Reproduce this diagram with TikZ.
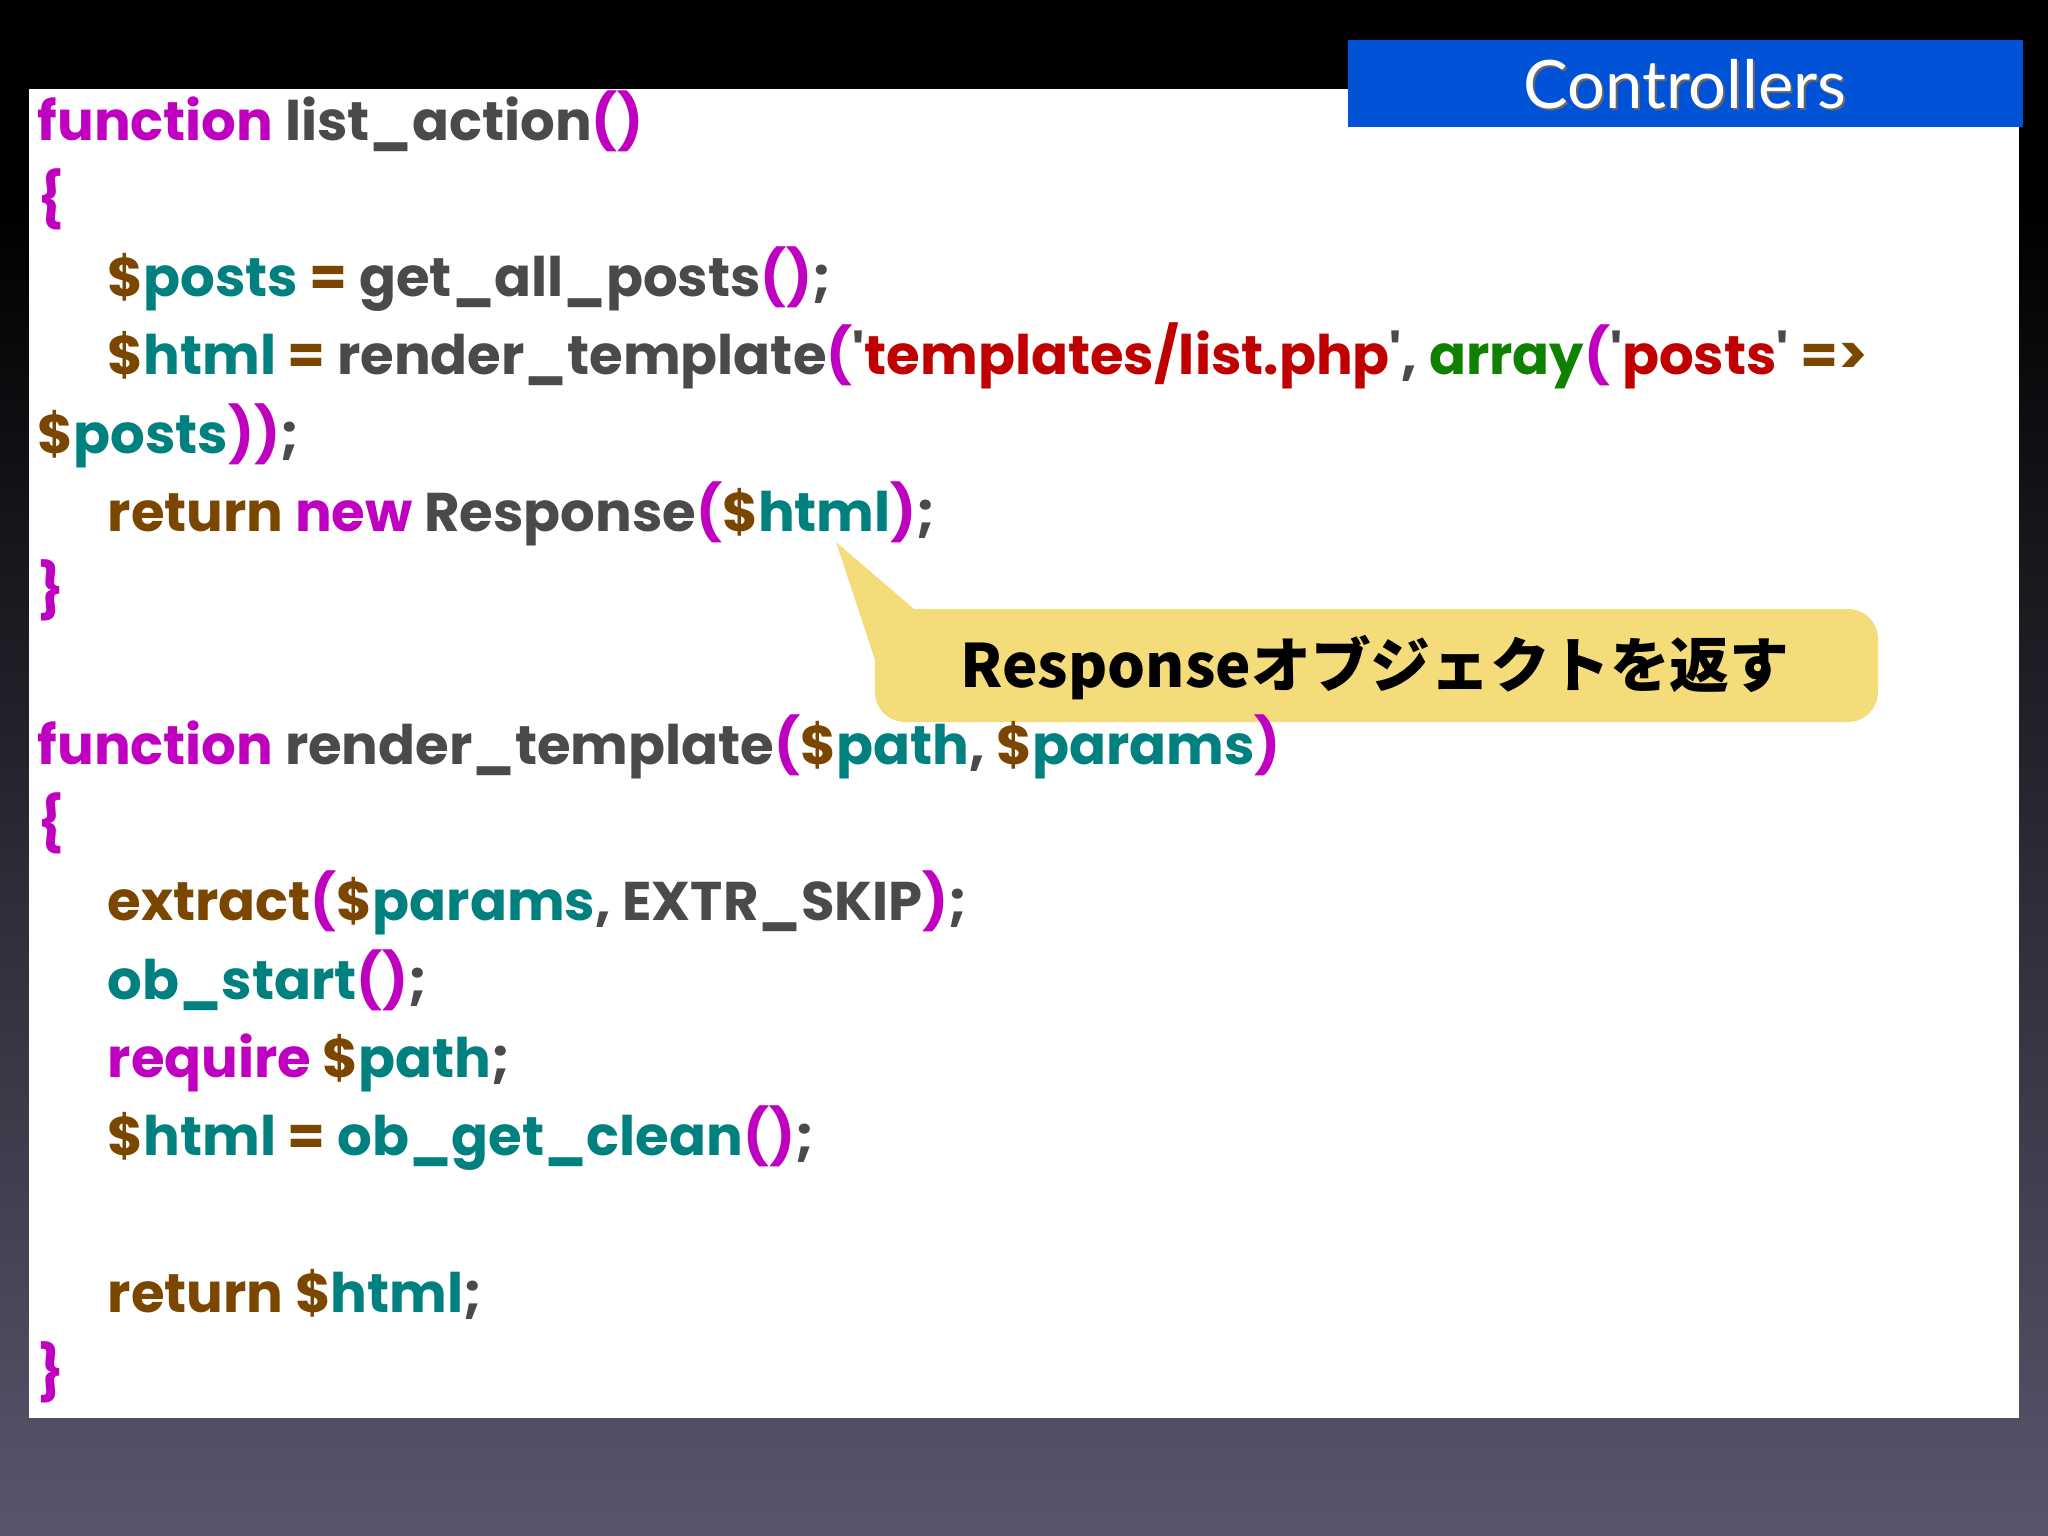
\documentclass[tikz,border=0pt]{standalone}
\usepackage{fontspec}
\setmainfont{Poppins}[Ligatures=TeXOff]
\newfontfamily\ctrlfont{Lato}
\newfontfamily\jpfont{Noto Sans CJK JP}
\definecolor{kwm}{HTML}{C000C0}
\definecolor{brn}{HTML}{7A4600}
\definecolor{tea}{HTML}{00807F}
\definecolor{gry}{HTML}{4A4A4A}
\definecolor{rdd}{HTML}{C00000}
\definecolor{grn}{HTML}{108000}
\definecolor{ctrlblue}{HTML}{0052D6}
\definecolor{callout}{HTML}{F5DC7A}
\newcommand{\Km}[1]{\textcolor{kwm}{#1}}
\newcommand{\Kb}[1]{\textcolor{brn}{#1}}
\newcommand{\Kt}[1]{\textcolor{tea}{#1}}
\newcommand{\Kg}[1]{\textcolor{gry}{#1}}
\newcommand{\Kr}[1]{\textcolor{rdd}{#1}}
\newcommand{\Kn}[1]{\textcolor{grn}{#1}}
\newcommand{\V}[1]{\Kb{\$}\Kt{#1}}
\begin{document}
\begin{tikzpicture}[x=0.01cm,y=-0.01cm,
  code/.style={anchor=base west,inner sep=0pt,font=\fontsize{15.5}{18}\selectfont\bfseries,text=gry}]
\useasboundingbox (0,0) rectangle (2048,1536);
\fill[black] (0,0) rectangle (2048,200);
\shade[top color=black,bottom color={rgb,255:red,88;green,86;blue,108}] (0,200) rectangle (2048,1536);
\fill[white] (29,89) rectangle (2019,1418);
\fill[ctrlblue] (1348,40) rectangle (2023,127);
\node[text=black!60,font=\ctrlfont\fontsize{19}{22}\selectfont] at (1687,86) {Controllers};
\node (ctrl) [text=white,font=\ctrlfont\fontsize{19}{22}\selectfont] at (1685,84) {Controllers};
% callout
\fill[callout] (836,542) -- (914,609) -- (875,660) -- cycle;
\fill[callout,rounded corners=0.3cm] (875,609) rectangle (1878,722);
\node (co) [font=\jpfont\fontsize{17}{20}\selectfont\bfseries,text=black] at (1375,668) {Responseオブジェクトを返す};
% code
\node (l1) [code] at (37,140) {\Km{function} list\_action\Km{()}};
\node (l2) [code] at (37,218) {\Km{\{}};
\node (l3) [code] at (107,296) {\V{posts} \Kb{=} get\_all\_posts\Km{()};};
\node (l4) [code] at (107,374) {\V{html} \Kb{=} render\_template\Km{(}'\Kr{templates/list.php}', \Kn{array}\Km{(}'\Kr{posts}' \Kb{=>}};
\node (l5) [code] at (37,453) {\V{posts}\Km{))};};
\node (l6) [code] at (107,531) {\Kb{return} \Km{new} Response\Km{(}\V{html}\Km{)};};
\node (l7) [code] at (37,609) {\Km{\}}};
\node (l8) [code] at (37,764) {\Km{function} render\_template\Km{(}\V{path}, \V{params}\Km{)}};
\node (l9) [code] at (37,842) {\Km{\{}};
\node (l10) [code] at (107,920) {\Kb{extract}\Km{(}\V{params}, EXTR\_SKIP\Km{)};};
\node (l11) [code] at (107,999) {\Kt{ob\_start}\Km{()};};
\node (l12) [code] at (107,1077) {\Km{require} \V{path};};
\node (l13) [code] at (107,1155) {\V{html} \Kb{=} \Kt{ob\_get\_clean}\Km{()};};
\node (l14) [code] at (107,1312) {\Kb{return} \V{html};};
\node (l15) [code] at (37,1391) {\Km{\}}};
\end{tikzpicture}
\end{document}
